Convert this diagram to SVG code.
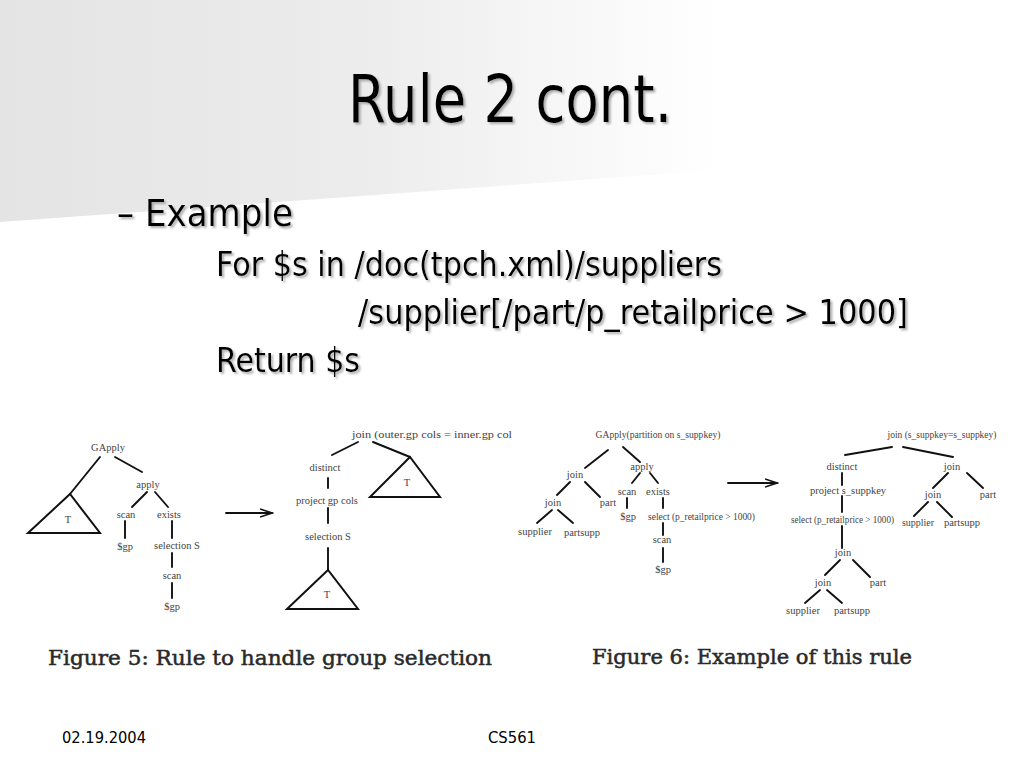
<svg xmlns="http://www.w3.org/2000/svg" width="1024" height="768" viewBox="0 0 1024 768">
<defs>
<linearGradient id="bg" x1="0" y1="0" x2="1" y2="0">
<stop offset="0" stop-color="#e4e4e4"/>
<stop offset="0.35" stop-color="#ececec"/>
<stop offset="0.7" stop-color="#ffffff"/>
</linearGradient>
<filter id="sh" x="-5%" y="-20%" width="110%" height="140%">
<feDropShadow dx="2" dy="2" stdDeviation="0.8" flood-color="#999" flood-opacity="0.8"/>
</filter>
<marker id="arr" markerWidth="14" markerHeight="10" refX="12" refY="5" orient="auto" markerUnits="userSpaceOnUse">
<path d="M0,1 L12,5 L0,9" fill="none" stroke="#111" stroke-width="1.6"/>
</marker>
</defs>
<style>
.t{font-family:"DejaVu Sans Condensed","Liberation Sans",sans-serif;fill:#000}
.cap{font-family:"DejaVu Serif","Liberation Serif",serif;fill:#2a2a2a;stroke:#2a2a2a;stroke-width:0.5;font-size:20px}
.n{font-family:"Liberation Serif","DejaVu Serif",serif;fill:#444;font-size:10.5px;text-anchor:middle}
.ns{font-family:"Liberation Serif","DejaVu Serif",serif;fill:#444;font-size:10px}
.e{stroke:#111;stroke-width:1.9;fill:none;stroke-linecap:round}
.tri{stroke:#111;stroke-width:2;fill:none;stroke-linejoin:miter}
.f{font-family:"DejaVu Sans Condensed","Liberation Sans",sans-serif;fill:#000;font-size:15px}
</style>
<rect width="1024" height="768" fill="#fff"/>
<polygon points="0,0 1024,0 1024,148 0,222" fill="url(#bg)"/>

<g id="title" filter="url(#sh)">
<text class="t" x="348" y="122" font-size="66" textLength="324" lengthAdjust="spacingAndGlyphs">Rule 2 cont.</text>
</g>
<g id="body" filter="url(#sh)">
<text class="t" x="117" y="226" font-size="38" textLength="176" lengthAdjust="spacingAndGlyphs">– Example</text>
<text class="t" x="216" y="276" font-size="33" textLength="506" lengthAdjust="spacingAndGlyphs">For $s in /doc(tpch.xml)/suppliers</text>
<text class="t" x="358" y="324" font-size="33" textLength="550" lengthAdjust="spacingAndGlyphs">/supplier[/part/p_retailprice &gt; 1000]</text>
<text class="t" x="216" y="372" font-size="33" textLength="144" lengthAdjust="spacingAndGlyphs">Return $s</text>
</g>

<g id="connectors">
<!-- Figure 5 left -->
<line class="e" x1="100" y1="457" x2="70" y2="494"/>
<line class="e" x1="115" y1="457" x2="142" y2="472"/>
<line class="e" x1="147" y1="492" x2="132" y2="507"/>
<line class="e" x1="155" y1="492" x2="168" y2="507"/>
<line class="e" x1="125" y1="521" x2="125" y2="538"/>
<line class="e" x1="172" y1="521" x2="172" y2="538"/>
<line class="e" x1="172" y1="553" x2="172" y2="567"/>
<line class="e" x1="172" y1="583" x2="172" y2="598"/>
<line class="e" x1="226" y1="513" x2="272" y2="513" marker-end="url(#arr)"/>
<!-- Figure 5 right -->
<line class="e" x1="358" y1="442" x2="332" y2="455"/>
<line class="e" x1="373" y1="442" x2="410" y2="457"/>
<line class="e" x1="328" y1="478" x2="328" y2="488"/>
<line class="e" x1="328" y1="508" x2="328" y2="523"/>
<line class="e" x1="328" y1="548" x2="328" y2="570"/>
<!-- Figure 6 left -->
<line class="e" x1="608" y1="450" x2="585" y2="468"/>
<line class="e" x1="623" y1="447" x2="640" y2="462"/>
<line class="e" x1="570" y1="482" x2="557" y2="495"/>
<line class="e" x1="585" y1="482" x2="600" y2="497"/>
<line class="e" x1="552" y1="510" x2="537" y2="523"/>
<line class="e" x1="558" y1="510" x2="573" y2="523"/>
<line class="e" x1="640" y1="473" x2="632" y2="483"/>
<line class="e" x1="650" y1="473" x2="658" y2="483"/>
<line class="e" x1="627" y1="498" x2="627" y2="508"/>
<line class="e" x1="663" y1="498" x2="663" y2="508"/>
<line class="e" x1="663" y1="523" x2="663" y2="535"/>
<line class="e" x1="663" y1="548" x2="663" y2="562"/>
<line class="e" x1="728" y1="483" x2="777" y2="483" marker-end="url(#arr)"/>
<!-- Figure 6 right -->
<line class="e" x1="892" y1="447" x2="845" y2="455"/>
<line class="e" x1="903" y1="447" x2="953" y2="457"/>
<line class="e" x1="842" y1="473" x2="842" y2="485"/>
<line class="e" x1="842" y1="496" x2="842" y2="512"/>
<line class="e" x1="842" y1="526" x2="842" y2="548"/>
<line class="e" x1="840" y1="560" x2="825" y2="575"/>
<line class="e" x1="853" y1="560" x2="870" y2="577"/>
<line class="e" x1="820" y1="590" x2="805" y2="603"/>
<line class="e" x1="827" y1="590" x2="842" y2="603"/>
<line class="e" x1="948" y1="473" x2="933" y2="488"/>
<line class="e" x1="967" y1="473" x2="983" y2="488"/>
<line class="e" x1="928" y1="502" x2="914" y2="516"/>
<line class="e" x1="937" y1="502" x2="952" y2="517"/>
</g>

<!-- Figure 5 left nodes -->
<g id="f5-gapply"><text class="n" x="108" y="451">GApply</text></g>
<g id="f5-T1"><polygon class="tri" points="70,494 28,533 100,533"/><text class="n" x="68" y="523">T</text></g>
<g id="f5-apply"><text class="n" x="148" y="488">apply</text></g>
<g id="f5-scan1"><text class="n" x="126" y="518">scan</text></g>
<g id="f5-exists"><text class="n" x="169" y="518">exists</text></g>
<g id="f5-gp1"><text class="n" x="125" y="550">$gp</text></g>
<g id="f5-selS1"><text class="n" x="177" y="549">selection S</text></g>
<g id="f5-scan2"><text class="n" x="172" y="579">scan</text></g>
<g id="f5-gp2"><text class="n" x="172" y="610">$gp</text></g>

<!-- Figure 5 right nodes -->
<g id="f5-join"><text class="ns" x="352" y="438" textLength="160" lengthAdjust="spacingAndGlyphs">join (outer.gp cols = inner.gp col</text></g>
<g id="f5-distinct"><text class="n" x="325" y="471">distinct</text></g>
<g id="f5-T2"><polygon class="tri" points="410,457 370,497 440,497"/><text class="n" x="407" y="486">T</text></g>
<g id="f5-project"><text class="n" x="327" y="504">project gp cols</text></g>
<g id="f5-selS2"><text class="n" x="328" y="540">selection S</text></g>
<g id="f5-T3"><polygon class="tri" points="328,570 287,609 358,609"/><text class="n" x="327" y="598">T</text></g>

<!-- Figure 6 left nodes -->
<g id="f6-gapply"><text class="n" x="658" y="438" font-size="9" textLength="125" lengthAdjust="spacingAndGlyphs">GApply(partition on s_suppkey)</text></g>
<g id="f6-join1"><text class="n" x="575" y="478" font-size="9">join</text></g>
<g id="f6-apply"><text class="n" x="642" y="470" font-size="9">apply</text></g>
<g id="f6-join2"><text class="n" x="553" y="506" font-size="9">join</text></g>
<g id="f6-part1"><text class="n" x="608" y="506" font-size="9">part</text></g>
<g id="f6-supplier1"><text class="n" x="535" y="535" font-size="9">supplier</text></g>
<g id="f6-partsupp1"><text class="n" x="582" y="536" font-size="9">partsupp</text></g>
<g id="f6-scan1"><text class="n" x="627" y="495" font-size="9">scan</text></g>
<g id="f6-exists"><text class="n" x="658" y="495" font-size="9">exists</text></g>
<g id="f6-gp1"><text class="n" x="628" y="520" font-size="9">$gp</text></g>
<g id="f6-select1"><text class="ns" x="648" y="520" font-size="9" textLength="107" lengthAdjust="spacingAndGlyphs">select (p_retailprice &gt; 1000)</text></g>
<g id="f6-scan2"><text class="n" x="662" y="543" font-size="9">scan</text></g>
<g id="f6-gp2"><text class="n" x="663" y="573" font-size="9">$gp</text></g>

<!-- Figure 6 right nodes -->
<g id="f6-joinTop"><text class="n" x="942" y="438" font-size="9" textLength="109" lengthAdjust="spacingAndGlyphs">join (s_suppkey=s_suppkey)</text></g>
<g id="f6-distinct"><text class="n" x="842" y="470" font-size="9">distinct</text></g>
<g id="f6-project"><text class="n" x="848" y="494" font-size="9">project s_suppkey</text></g>
<g id="f6-select2"><text class="ns" x="791" y="523" font-size="9" textLength="103" lengthAdjust="spacingAndGlyphs">select (p_retailprice &gt; 1000)</text></g>
<g id="f6-join3"><text class="n" x="843" y="556" font-size="9">join</text></g>
<g id="f6-join4"><text class="n" x="823" y="586" font-size="9">join</text></g>
<g id="f6-part2"><text class="n" x="878" y="586" font-size="9">part</text></g>
<g id="f6-supplier2"><text class="n" x="803" y="614" font-size="9">supplier</text></g>
<g id="f6-partsupp2"><text class="n" x="852" y="614" font-size="9">partsupp</text></g>
<g id="f6-join5"><text class="n" x="952" y="470" font-size="9">join</text></g>
<g id="f6-join6"><text class="n" x="933" y="498" font-size="9">join</text></g>
<g id="f6-part3"><text class="n" x="988" y="498" font-size="9">part</text></g>
<g id="f6-supplier3"><text class="n" x="918" y="526" font-size="9" textLength="32" lengthAdjust="spacingAndGlyphs">supplier</text></g>
<g id="f6-partsupp3"><text class="n" x="962" y="526" font-size="9">partsupp</text></g>

<g id="captions">
<text class="cap" x="48" y="665" textLength="444" lengthAdjust="spacingAndGlyphs">Figure 5: Rule to handle group selection</text>
<text class="cap" x="592" y="664" textLength="320" lengthAdjust="spacingAndGlyphs">Figure 6: Example of this rule</text>
</g>
<g id="footer">
<text class="f" x="62" y="743" textLength="84" lengthAdjust="spacingAndGlyphs">02.19.2004</text>
<text class="f" x="488" y="743" textLength="48" lengthAdjust="spacingAndGlyphs">CS561</text>
</g>
</svg>
